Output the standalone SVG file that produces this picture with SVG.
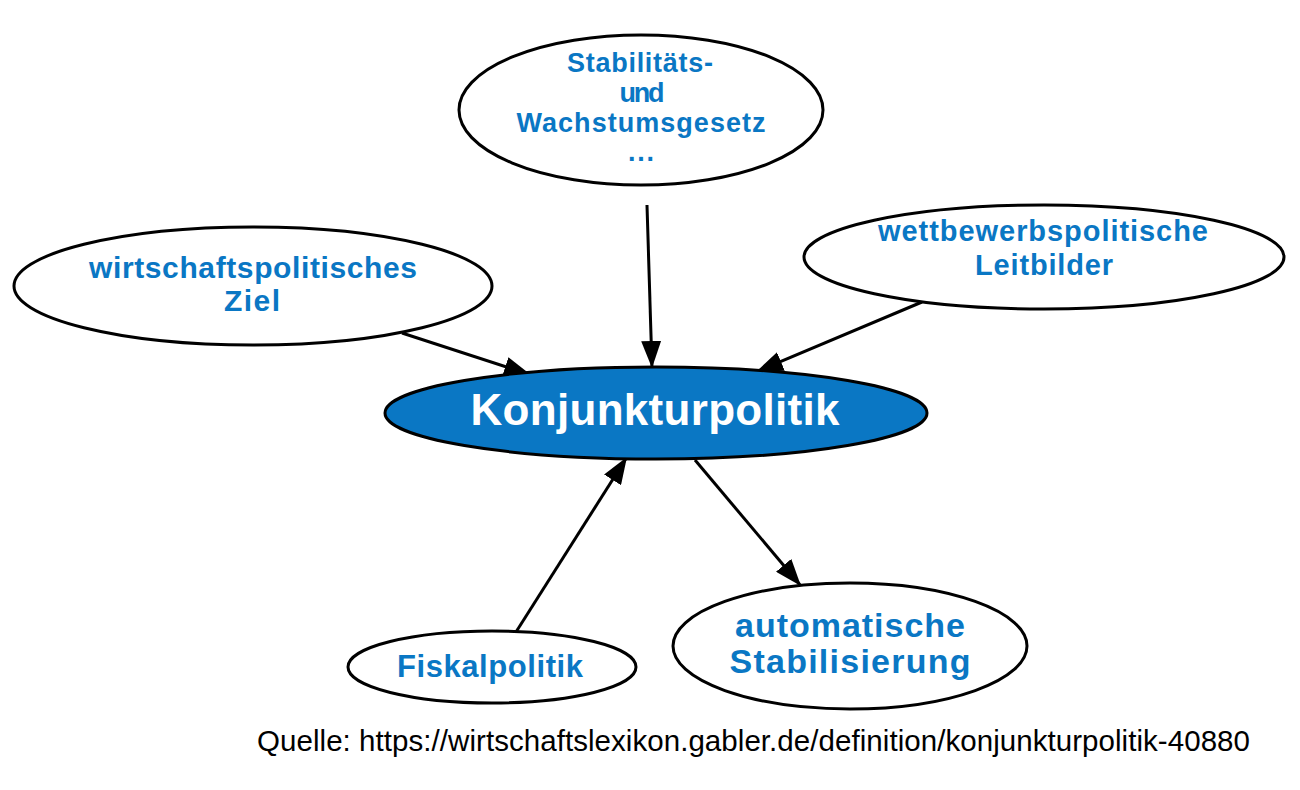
<svg xmlns="http://www.w3.org/2000/svg" width="1300" height="790" viewBox="0 0 1300 790">
<defs>
<style>
.n{fill:#fff;stroke:#000;stroke-width:3}
.t{font-family:"Liberation Sans",Arial,sans-serif;font-weight:bold;fill:#0a77c4;text-anchor:middle}
.e{stroke:#000;stroke-width:3;fill:none}
</style>
<marker id="ah" viewBox="0 0 27 20" refX="27" refY="10" markerWidth="27" markerHeight="20" orient="auto" markerUnits="userSpaceOnUse">
<path d="M0,0 L27,10 L0,20 z" fill="#000"/>
</marker>
</defs>
<rect width="1300" height="790" fill="#fff"/>
<g id="edges">
<path class="e" d="M647,205 L652,368" marker-end="url(#ah)"/>
<path class="e" d="M402,333 L531,375" marker-end="url(#ah)"/>
<path class="e" d="M922,302 L756,372" marker-end="url(#ah)"/>
<path class="e" d="M516,632 L627,457" marker-end="url(#ah)"/>
<path class="e" d="M695,460 L801,586" marker-end="url(#ah)"/>
</g>
<g id="n1">
<ellipse class="n" cx="641" cy="110" rx="182" ry="75"/>
<text class="t" font-size="27" lengthAdjust="spacingAndGlyphs"><tspan x="640" y="72" textLength="146">Stabilitäts-</tspan><tspan x="642" y="102" textLength="45">und</tspan><tspan x="641" y="132" textLength="249">Wachstumsgesetz</tspan><tspan x="641" y="161" textLength="26">...</tspan></text>
</g>
<g id="n2">
<ellipse class="n" cx="253" cy="286" rx="239" ry="59"/>
<text class="t" font-size="30"><tspan x="253" y="278" textLength="328">wirtschaftspolitisches</tspan><tspan x="252" y="311" textLength="56">Ziel</tspan></text>
</g>
<g id="n3">
<ellipse class="n" cx="1044" cy="257" rx="240" ry="52"/>
<text class="t" font-size="29"><tspan x="1043" y="241" textLength="330">wettbewerbspolitische</tspan><tspan x="1044" y="275" textLength="138">Leitbilder</tspan></text>
</g>
<g id="n0">
<ellipse cx="656" cy="413" rx="271" ry="46" fill="#0a77c4" stroke="#000" stroke-width="3"/>
<text class="t" x="655" y="425" font-size="44" textLength="369" style="fill:#fff">Konjunkturpolitik</text>
</g>
<g id="n4">
<ellipse class="n" cx="492" cy="667" rx="144" ry="36"/>
<text class="t" x="490" y="677" font-size="31" textLength="186">Fiskalpolitik</text>
</g>
<g id="n5">
<ellipse class="n" cx="850" cy="646" rx="177" ry="63"/>
<text class="t" font-size="34"><tspan x="850" y="637" textLength="230">automatische</tspan><tspan x="850" y="673" textLength="241">Stabilisierung</tspan></text>
</g>
<text x="257" y="751" font-family="'Liberation Sans',Arial,sans-serif" font-size="29.5" textLength="993" fill="#000">Quelle: https://wirtschaftslexikon.gabler.de/definition/konjunkturpolitik-40880</text>
</svg>
